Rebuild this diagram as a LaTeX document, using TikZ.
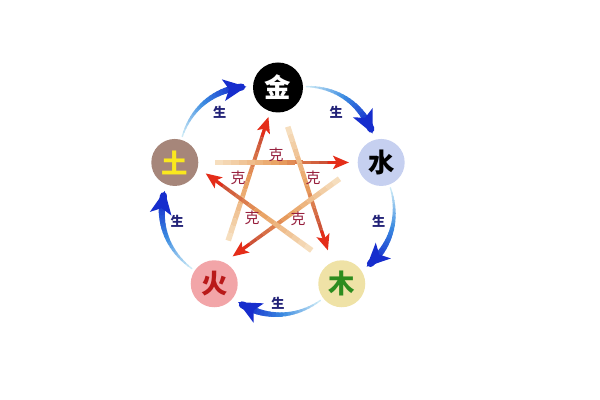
\documentclass[tikz,border=0pt]{standalone}
\usepackage{fontspec}
\newfontfamily\cjk{Noto Sans CJK SC}
\usetikzlibrary{calc, arrows.meta}

\definecolor{shuifill}{RGB}{198,208,240}
\definecolor{mufill}{RGB}{239,226,166}
\definecolor{mutext}{RGB}{45,140,30}
\definecolor{huofill}{RGB}{242,165,168}
\definecolor{huotext}{RGB}{185,25,25}
\definecolor{tufill}{RGB}{166,134,122}
\definecolor{tutext}{RGB}{250,232,30}
\definecolor{shpale}{RGB}{205,234,246}
\definecolor{shmid}{RGB}{60,140,225}
\definecolor{shblue}{RGB}{22,45,205}
\definecolor{kepale}{RGB}{246,222,190}
\definecolor{keorange}{RGB}{232,160,95}
\definecolor{kered}{RGB}{195,55,40}
\definecolor{kehead}{RGB}{228,45,25}
\definecolor{ketext}{RGB}{150,30,60}
\definecolor{shtext}{RGB}{35,35,120}

\begin{document}
\begin{tikzpicture}
	[auto,
		element/.style		={circle
									, minimum size=0.94cm
									, inner sep=0pt
									, font=\cjk\bfseries\fontsize{15}{15}\selectfont
									},
		kelabel/.style		={text=ketext
									, inner sep=1pt
									, font=\cjk\fontsize{8.5}{8.5}\selectfont
									},
		shenglabel/.style	={text=shtext
									, inner sep=3pt
									, font=\cjk\bfseries\fontsize{7.5}{7.5}\selectfont
									},
		shengtip/.style	={-{Stealth[length=13pt, width=12pt, inset=3pt]}
									, draw=shblue
									, line width=3.8pt
									},
		ketip/.style		={-{Stealth[length=9pt, width=7.5pt, inset=2pt]}
									, draw=kehead
									, line width=1.6pt
									}
	]
\useasboundingbox (0,0) rectangle (12,8);
\begin{scope}[shift={(5.56,4.08)}]
	% the five elements
	\node [element, fill=black, text=white, minimum size=1cm] (jin) at (90:2.17) {金};
	\node [element, fill=shuifill, text=black] (shui) at (18:2.17) {水};
	\node [element, fill=mufill, text=mutext] (mu) at (-54:2.17) {木};
	\node [element, fill=huofill, text=huotext] (huo) at (-126:2.17) {火};
	\node [element, fill=tufill, text=tutext] (tu) at (162:2.17) {土};

	% ke, the star
	\foreach \src/\dst/\ta/\tb/\dx/\dy in {huo/jin/0.22/0.85/0/0, tu/shui/0.195/0.844/0/0, jin/mu/0.2/0.83/-0.06/0, shui/huo/0.25/0.89/0/0.28, mu/tu/0.18/0.815/0/0.23}
	{
		\foreach \i in {0,...,15}
		{
			\pgfmathsetmacro\pa{\ta+(\tb-0.03-\ta)*\i/16}
			\pgfmathsetmacro\pb{\ta+(\tb-0.03-\ta)*(\i+1)/16}
			\pgfmathtruncatemacro\mix{min(100,200*\i/15)}
			\pgfmathtruncatemacro\mixb{max(0,200*\i/15-100)}
			\pgfmathsetmacro\kw{3.2-1.4*\i/15}
			\colorlet{kestep}{keorange!\mix!kepale}
			\colorlet{kestep}{kered!\mixb!kestep}
			\draw [line width=\kw pt, kestep] ($(\src)!\pa!(\dst)+(\dx,\dy)$) -- ($(\src)!\pb!(\dst)+(\dx,\dy)$);
		}
		\pgfmathsetmacro\pa{\tb-0.1}
		\draw [ketip] ($(\src)!\pa!(\dst)+(\dx,\dy)$) -- ($(\src)!\tb!(\dst)+(\dx,\dy)$);
	}
	\node [kelabel] (ke 1) at (-0.04,0.82) {克};
	\node [kelabel] (ke 2) at (-0.80,0.36) {克};
	\node [kelabel] (ke 3) at (0.70,0.36) {克};
	\node [kelabel] (ke 4) at (-0.52,-0.44) {克};
	\node [kelabel] (ke 5) at (0.40,-0.46) {克};

	% sheng, the ring
	\foreach \src/\dst in {jin/shui, shui/mu, mu/huo, huo/tu, tu/jin}
	{
		\foreach \i in {0,...,19}
		{
			\pgfmathsetmacro\pa{0.03+0.043*\i}
			\pgfmathsetmacro\pb{0.03+0.043*(\i+1)}
			\pgfmathtruncatemacro\mix{min(100,200*\i/19)}
			\pgfmathtruncatemacro\mixb{max(0,200*\i/19-100)}
			\pgfmathsetmacro\sw{0.8+0.17*\i}
			\colorlet{shstep}{shmid!\mix!shpale}
			\colorlet{shstep}{shblue!\mixb!shstep}
			\path (\src) to[bend left=38] coordinate[pos=\pa] (a) coordinate[pos=\pb] (b) (\dst);
			\draw [line width=\sw pt, shstep, line cap=round] (a) -- (b);
		}
		\path (\src) to[bend left=38] coordinate[pos=0.78] (a) coordinate[pos=0.94] (b)
			node [shenglabel, pos=0.5, swap] (sheng \src) {生} (\dst);
		\draw [shengtip] (a) -- (b);
	}
\end{scope}
\end{tikzpicture}
\end{document}
